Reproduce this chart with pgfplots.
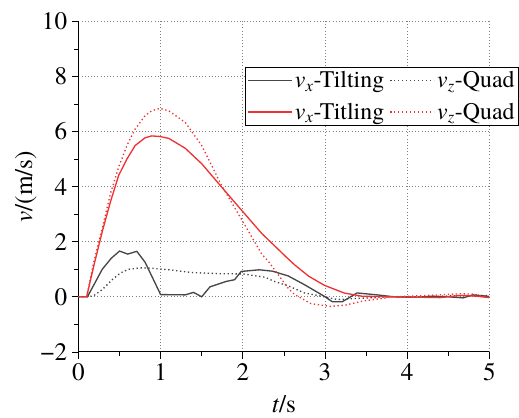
\documentclass[border=0pt]{standalone}
\usepackage{pgfplots}
\pgfplotsset{compat=1.18}
\usepackage{fontspec}
\setmainfont{TeX Gyre Termes}

\definecolor{tiltgray}{RGB}{70,70,70}
\definecolor{quadred}{RGB}{238,50,50}

\begin{document}
\begin{tikzpicture}
\begin{axis}[
    scale only axis,
    width=310.5pt, height=249.75pt,
    xmin=0, xmax=5,
    ymin=-2, ymax=10,
    xtick={0,1,2,3,4,5},
    ytick={-2,0,2,4,6,8,10},
    yticklabels={−2,0,2,4,6,8,10},
    minor x tick num=1,
    minor y tick num=1,
    axis lines=left,
    axis line style={-, black, line width=0.6pt},
    tick style={black, line width=0.5pt},
    tick align=outside,
    major tick length=5pt,
    minor tick length=3pt,
    grid=major,
    major grid style={dotted, gray, line width=0.6pt},
    /pgf/number format/assume math mode=true,
    ticklabel style={font=\fontsize{19}{21}\selectfont},
    label style={font=\fontsize{19}{21}\selectfont},
    xlabel={\textit{t}/s},
    ylabel={\textit{v}/(m/s)},
    xlabel style={yshift=-4pt},
    ylabel style={yshift=-4pt},
    legend columns=2,
    legend cell align=left,
    legend style={at={(0.406,0.862)}, anchor=north west,
        draw=black, line width=0.8pt, inner sep=1pt, row sep=6pt,
        font=\fontsize{18}{20}\selectfont,
        /tikz/every even column/.append style={column sep=2pt}},
    legend image code/.code={\draw[#1, line width=1.1pt] (0pt,0pt) -- (33pt,0pt);},
]
% vx - Tilting
\addplot[tiltgray, line width=1.0pt] coordinates {
(0,0) (0.11,0) (0.29,1.0) (0.40,1.4) (0.50,1.66) (0.60,1.55) (0.71,1.65)
(0.81,1.26) (1.0,0.08) (1.30,0.07) (1.40,0.16) (1.50,0.0) (1.60,0.36)
(1.80,0.56) (1.90,0.62) (1.98,0.92) (2.2,0.98) (2.36,0.93) (2.55,0.76)
(2.75,0.44) (2.99,0.02) (3.09,-0.18) (3.21,-0.18) (3.39,0.14) (3.63,0.07)
(3.84,0.0) (4.1,-0.02) (4.3,0.02) (4.5,0.0) (4.68,-0.04) (4.8,0.07) (4.98,0.02) (5,0.0)
};
% vz - Quad (black)
\addplot[tiltgray, dotted, line width=1.0pt] coordinates {
(0,0) (0.1,0) (0.18,0.03) (0.29,0.26) (0.41,0.62) (0.51,0.86) (0.61,1.0)
(0.77,1.05) (0.88,1.04) (1.10,0.98) (1.38,0.88) (1.70,0.84) (2.0,0.83)
(2.27,0.71) (2.39,0.55) (2.55,0.40) (2.75,0.14) (2.99,0.0) (3.15,-0.1)
(3.45,-0.05) (3.84,0.0) (4.25,0.0) (4.65,0.05) (5,0.05)
};
% vx - Titling
\addplot[quadred, line width=1.0pt] coordinates {
(0,0) (0.1,0) (0.19,1.16) (0.29,2.37) (0.39,3.45) (0.49,4.41) (0.59,5.0)
(0.69,5.49) (0.81,5.77) (0.89,5.84) (0.99,5.82) (1.10,5.75) (1.30,5.39)
(1.50,4.83) (1.74,3.99) (2.0,3.09) (2.23,2.30) (2.31,2.07) (2.55,1.38)
(2.63,1.16) (2.80,0.75) (2.99,0.42) (3.23,0.14) (3.45,0.02) (3.84,0.0)
(4.4,-0.03) (4.65,0.05) (4.85,0.02) (5,-0.03)
};
% vz - Quad (red)
\addplot[quadred, dotted, line width=1.0pt] coordinates {
(0,0) (0.1,0) (0.19,1.3) (0.29,2.49) (0.39,3.75) (0.49,4.71) (0.59,5.49)
(0.69,6.09) (0.81,6.57) (0.89,6.75) (0.99,6.84) (1.10,6.75) (1.30,6.33)
(1.50,5.49) (1.74,4.05) (2.0,2.73) (2.23,1.55) (2.31,1.29) (2.55,0.32)
(2.63,0.08) (2.83,-0.25) (3.07,-0.35) (3.25,-0.30) (3.45,-0.16) (3.84,0.0)
(4.25,0.05) (4.65,0.11) (4.8,0.1) (5,-0.03)
};
\legend{\textit{v}\textsubscript{\textit{x}}-Tilting,
        \textit{v}\textsubscript{\textit{z}}-Quad,
        \textit{v}\textsubscript{\textit{x}}-Titling,
        \textit{v}\textsubscript{\textit{z}}-Quad}
\end{axis}
\path ([xshift=-59.25pt, yshift=-49.9pt]current axis.south west)
      ([xshift=19.5pt, yshift=16.1pt]current axis.north east);
\end{tikzpicture}
\end{document}
